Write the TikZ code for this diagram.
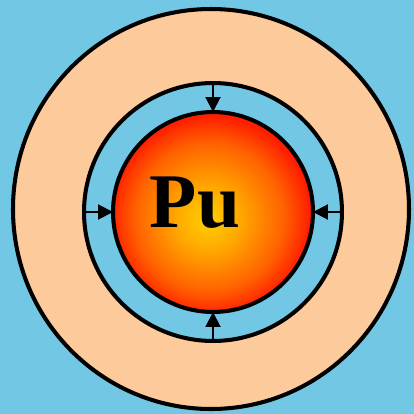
\documentclass[tikz,border=0pt]{standalone}
\usepackage{fontspec}
\setmainfont{Liberation Serif}
\usetikzlibrary{arrows.meta}
\definecolor{skyblue}{HTML}{72C8E4}
\definecolor{peach}{HTML}{FDCB9B}
\definecolor{coreyellow}{HTML}{FFD000}
\definecolor{coreamber}{HTML}{FFA800}
\definecolor{coreorange}{HTML}{FF6200}
\definecolor{corered}{HTML}{FF1E00}
\pgfdeclareradialshading{coreglow}{\pgfpoint{-1.5bp}{-2bp}}{%
  color(0bp)=(coreyellow); color(8bp)=(coreamber); color(18.5bp)=(coreorange);
  color(25bp)=(corered); color(50bp)=(corered)}
\tikzset{
  rim/.style={draw=black, line width=2.3pt, outer sep=0pt, circle, inner sep=0pt},
  squeeze/.style={draw=black, line width=1.1pt, -{Triangle[length=0.3cm,width=0.3cm]}}
}

\begin{document}
\begin{tikzpicture}[x=0.02cm, y=-0.02cm]
  \useasboundingbox (0,0) rectangle (414,414);
  \fill[skyblue] (0,0) rectangle (414,414);

  % Outer shell
  \draw[peach, fill=peach] (211,209) ellipse [x radius=198, y radius=200];
  \draw[black, line width=2.3pt] (211,209) ellipse [x radius=198, y radius=200];

  % Gap ring and core
  \node[rim, fill=skyblue, minimum size=5.16cm] (gap) at (213,212) {};
  \node[rim, shading=coreglow, minimum size=4cm] (core) at (213,212) {};

  % Inward arrows
  \draw[squeeze] (gap.north) -- (core.north);
  \draw[squeeze] (gap.south) -- (core.south);
  \draw[squeeze] (gap.west) -- (core.west);
  \draw[squeeze] (gap.east) -- (core.east);

  % Label
  \node[anchor=base, inner sep=0pt, font=\fontsize{44}{44}\selectfont\bfseries] (pu) at (195,227) {Pu};
\end{tikzpicture}
\end{document}
